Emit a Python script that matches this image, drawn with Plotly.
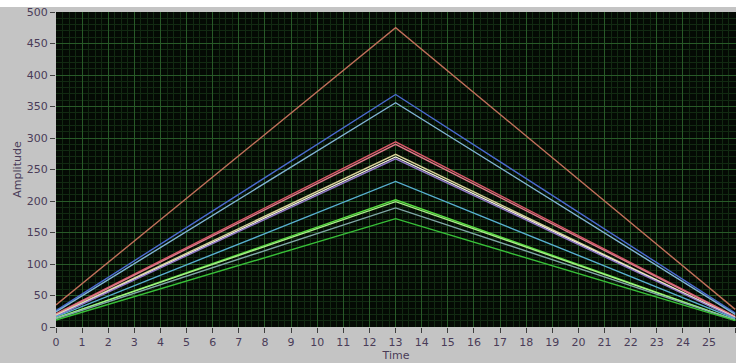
import plotly.graph_objects as go

time_points = [0, 13, 26]
series_names = ["s1", "s2", "s3", "s4", "s5", "s6", "s7", "s8", "s9", "s10", "s11", "s12", "s13"]
series_values = [
    [35, 475, 28],
    [26, 369, 22],
    [24, 356, 20],
    [21, 294, 17],
    [20, 290, 16],
    [19, 274, 15],
    [18, 270, 15],
    [17, 267, 14],
    [16, 231, 13],
    [14, 202, 11],
    [14, 199, 11],
    [13, 189, 11],
    [11, 172, 10],
]
series_colors = ["#c0705a", "#4a6ad0", "#80b4d4", "#d85868", "#e07a8a", "#d8d098",
                 "#f0eedc", "#9078c8", "#58b0d0", "#58e040", "#a8f088", "#80a8a8", "#38c038"]
x_ticks = list(range(0, 27))
y_ticks = list(range(0, 501, 50))

fig = go.Figure()
for name, vals, col in zip(series_names, series_values, series_colors):
    fig.add_trace(go.Scatter(x=time_points, y=vals, mode="lines", name=name,
                             line=dict(color=col, width=1.4), showlegend=False))

tick_font = dict(family="DejaVu Sans", size=11, color="#4a3c58")
fig.update_layout(
    width=736, height=363,
    margin=dict(l=56, r=0, t=12, b=36),
    paper_bgcolor="#c4c4c4",
    plot_bgcolor="#040a04",
    font=tick_font,
    xaxis=dict(range=[0, 26.03], tickvals=x_ticks, ticks="outside", ticklen=5,
               tickcolor="#404040", showgrid=True, gridcolor="#285a28", gridwidth=1,
               minor=dict(dtick=0.25, showgrid=True, gridcolor="#122a12", gridwidth=1),
               zeroline=False, showline=False, tickfont=tick_font, automargin=False,
               title=dict(text="Time", font=dict(family="DejaVu Sans", size=11, color="#4a3c58"), standoff=0)),
    yaxis=dict(range=[0, 500], tickvals=y_ticks, ticks="outside", ticklen=5,
               tickcolor="#404040", showgrid=True, gridcolor="#285a28", gridwidth=1,
               minor=dict(dtick=10, showgrid=True, gridcolor="#122a12", gridwidth=1),
               zeroline=False, showline=False, tickfont=tick_font, automargin=False,
               title=dict(text="Amplitude", font=dict(family="DejaVu Sans", size=11, color="#4a3c58"), standoff=2)),
)
fig.add_shape(type="rect", xref="paper", yref="paper", x0=-0.1, x1=1.1,
              y0=1 + 5 / 315, y1=1.2, fillcolor="white", line=dict(width=0), layer="below")
fig.write_html("out.html", config={"displayModeBar": False},
               post_script="document.body.style.margin='0';document.body.style.overflow='hidden';")
